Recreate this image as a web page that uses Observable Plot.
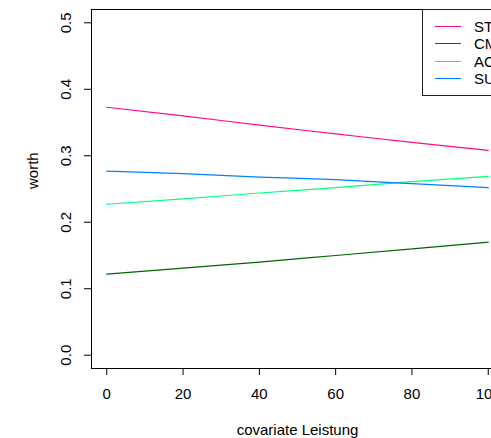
<!DOCTYPE html>
<html>
<head>
<meta charset="utf-8">
<script src="https://cdn.jsdelivr.net/npm/d3@7"></script>
<script src="https://cdn.jsdelivr.net/npm/@observablehq/plot@0.6"></script>
<style>
  html, body { margin: 0; padding: 0; background: #fff; overflow: hidden; }
  #wrap { position: relative; width: 491px; height: 438px; overflow: hidden; }
  #chart svg { max-width: none !important; display: block; }
  #legend { position: absolute; left: 422px; top: 9px; width: 120px; height: 87px;
    border: 1px solid #222; box-sizing: border-box; background: #fff;
    font-family: "Liberation Sans", Arial, sans-serif; font-size: 15px; }
  .row { position: absolute; left: 0; height: 17px; line-height: 17px; }
  .sw { position: absolute; left: 12px; width: 26px; height: 1px; top: 8px; }
  .lb { position: absolute; left: 51px; top: 0; white-space: nowrap; color: #000; }
</style>
</head>
<body>
<div id="wrap"><div id="chart"></div><div id="legend"></div></div>
<script>
const xs = [0, 20, 40, 60, 80, 100];
const seriesNames = ["ST", "CM", "AC", "SU"];
const colors = ["#FF0A85", "#006400", "#00FF80", "#0080FF"];
const ST = [0.373, 0.360, 0.346, 0.333, 0.320, 0.308];
const CM = [0.122, 0.131, 0.140, 0.150, 0.160, 0.170];
const AC = [0.227, 0.235, 0.244, 0.252, 0.261, 0.269];
const SU = [0.277, 0.273, 0.268, 0.264, 0.258, 0.252];
const xTicks = [0, 20, 40, 60, 80, 100];
const yTicks = [0.0, 0.1, 0.2, 0.3, 0.4, 0.5];

const seriesVals = [ST, CM, AC, SU];
const data = [];
seriesNames.forEach((s, i) => xs.forEach((x, j) => data.push({series: s, x, y: seriesVals[i][j]})));

const font = "Liberation Sans, Arial, sans-serif";
const chart = Plot.plot({
  width: 520, height: 438,
  marginLeft: 91, marginRight: 17, marginTop: 9, marginBottom: 70,
  style: {fontFamily: font, fontSize: "15px", background: "#fff", color: "#000", maxWidth: "none"},
  x: {domain: [-4, 104]},
  y: {domain: [-0.02, 0.52]},
  color: {domain: seriesNames, range: colors},
  marks: [
    Plot.frame({stroke: "#000", strokeWidth: 1}),
    Plot.axisX({ticks: xTicks, tickSize: 7, tickFormat: () => "", label: null}),
    Plot.axisY({ticks: yTicks, tickSize: 7, tickFormat: () => "", label: null}),
    Plot.text(xTicks, {x: d => d, text: d => String(d), frameAnchor: "bottom", dy: 26, lineAnchor: "middle", fontSize: 15}),
    Plot.text(yTicks, {y: d => d, text: d => d.toFixed(1), frameAnchor: "left", dx: -25, rotate: -90, lineAnchor: "middle", textAnchor: "middle", fontSize: 15}),
    Plot.text(["covariate Leistung"], {text: d => d, frameAnchor: "bottom", dy: 62, lineAnchor: "middle", fontSize: 15}),
    Plot.text(["worth"], {text: d => d, frameAnchor: "left", dx: -58, rotate: -90, lineAnchor: "middle", fontSize: 15}),
    Plot.line(data, {x: "x", y: "y", z: "series", stroke: "series", strokeWidth: 1.2, curve: "monotone-x"})
  ]
});
chart.style.maxWidth = "none";
document.getElementById("chart").appendChild(chart);

const leg = document.getElementById("legend");
seriesNames.forEach((s, i) => {
  const row = document.createElement("div");
  row.className = "row";
  row.style.top = Math.round(8 + i * 17.4) + "px";
  row.innerHTML = `<span class="sw" style="background:${colors[i]}"></span><span class="lb">${s}</span>`;
  leg.appendChild(row);
});
</script>
</body>
</html>
